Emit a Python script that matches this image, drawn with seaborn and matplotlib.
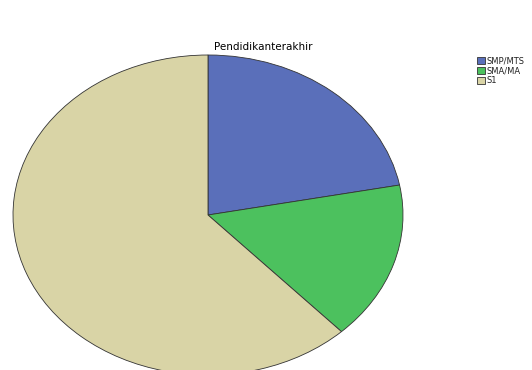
import matplotlib
matplotlib.use("Agg")
import matplotlib.pyplot as plt
import seaborn as sns

categories = ["SMP/MTS", "SMA/MA", "S1"]
values = [11, 8, 31]
colors = ["#5a6fba", "#4cc15e", "#d9d4a6"]

sns.set_theme(style="white")
plt.rcParams['font.family'] = ['DejaVu Sans']

fig = plt.figure(figsize=(5.32, 3.70), dpi=100)
ax = fig.add_axes([13/532, -5/370, 390/532, 320/370])
wedges, _ = ax.pie(values, colors=sns.color_palette(colors), startangle=90, counterclock=False,
                   wedgeprops=dict(edgecolor="#333333", linewidth=0.6))
ax.set_aspect('auto')
ax.set_xlim(-1, 1)
ax.set_ylim(-1, 1)
ax.axis('off')

fig.text(263/532, 1 - 47/370, "Pendidikanterakhir", ha='center', va='center', fontsize=7.5,
         color='black', fontweight='medium')
leg = fig.legend(wedges, categories, loc='upper left', bbox_to_anchor=(474/532, 1 - 53/370),
                 frameon=False, fontsize=6, handlelength=0.9, handleheight=0.9,
                 handletextpad=0.2, labelspacing=0.1, borderaxespad=0)
for t in leg.get_texts():
    t.set_color('#222222')
fig.savefig("out.png", dpi=100)
